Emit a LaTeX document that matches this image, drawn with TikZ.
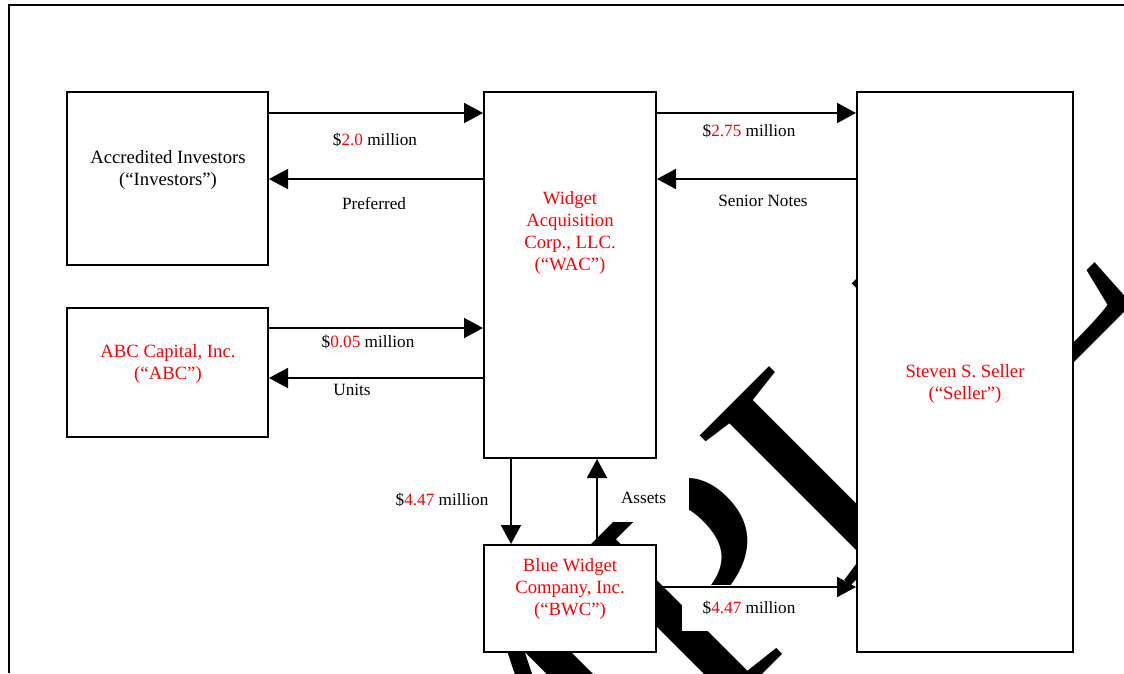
\documentclass[tikz,border=0pt]{standalone}
\usepackage{fontspec}
\setmainfont{Liberation Serif}
\usepackage{xcolor}
\usetikzlibrary{arrows.meta,positioning,calc}
\definecolor{NameRed}{RGB}{255,0,0}

\tikzset{
  entity/.style={draw, line width=2pt, fill=white, inner sep=0pt},
  boxtext/.style={align=center, inner sep=0pt, font=\fontsize{18.7}{22}\selectfont},
  flowlabel/.style={fill=white, inner xsep=8pt, inner ysep=3pt, font=\fontsize{17.2}{20}\selectfont},
  flow/.style={line width=2pt, -{Triangle[length=19pt,width=20pt]}},
}

\begin{document}
\begin{tikzpicture}[x=1pt,y=-1pt]
        \useasboundingbox (0,0) rectangle (1124,673);
        \clip (0,0) rectangle (1124,673);
        % watermark
        \node[rotate=45, xscale=1.08, anchor=base west, inner sep=0pt, font=\fontsize{325}{325}\selectfont] (wmark) at (168,1269) {SAMPLE};
        % labels on the flows
        \node[flowlabel] (l1) at (375,140) {\$\textcolor{NameRed}{2.0} million};
        \node[flowlabel] (l2) at (374,204) {Preferred};
        \node[flowlabel] (l3) at (749,131) {\$\textcolor{NameRed}{2.75} million};
        \node[flowlabel] (l4) at (763,201) {Senior Notes};
        \node[flowlabel] (l5) at (368,342) {\$\textcolor{NameRed}{0.05} million};
        \node[flowlabel] (l6) at (352,390) {Units};
        \node[flowlabel] (l7) at (442,500) {\$\textcolor{NameRed}{4.47} million};
        \node[flowlabel, minimum width=91pt, minimum height=48pt] (l8) at (643.5,498) {Assets};
        \node[flowlabel, minimum width=134pt, minimum height=46pt] (l9) at (749,608) {\$\textcolor{NameRed}{4.47} million};
        % parties
        \node[entity, minimum width=201pt, minimum height=173pt] (inv) at (167.5,178.5) {};
        \node[entity, minimum width=201pt, minimum height=129pt] (abc) at (167.5,372.5) {};
        \node[entity, minimum width=172pt, minimum height=366pt] (wac) at (570,275) {};
        \node[entity, minimum width=172pt, minimum height=107pt] (bwc) at (570,598.5) {};
        \node[entity, minimum width=216pt, minimum height=560pt] (seller) at (965,372) {};
        \node[boxtext] (invtxt) at (168,170) {Accredited Investors\\(“Investors”)};
        \node[boxtext, NameRed] (abctxt) at (168,363.5) {ABC Capital, Inc.\\(“ABC”)};
        \node[boxtext, NameRed] (wactxt) at (570,233) {Widget\\Acquisition\\Corp., LLC.\\(“WAC”)};
        \node[boxtext, NameRed] (bwctxt) at (570,589) {Blue Widget\\Company, Inc.\\(“BWC”)};
        \node[boxtext, NameRed] (sellertxt) at (965,384) {Steven S. Seller\\(“Seller”)};
        % flows
        \draw[flow] ($(inv.north east)+(0,22)$) -- ($(wac.north west)+(0,22)$);
        \draw[flow] ($(wac.north west)+(0,88)$) -- ($(inv.north east)+(0,88)$);
        \draw[flow] ($(wac.north east)+(0,22)$) -- ($(seller.north west)+(0,22)$);
        \draw[flow] ($(seller.north west)+(0,88)$) -- ($(wac.north east)+(0,88)$);
        \draw[flow] ($(abc.north east)+(0,21)$) -- ($(wac.west |- abc.north)+(0,21)$);
        \draw[flow] ($(wac.west |- abc.north)+(0,71)$) -- ($(abc.north east)+(0,71)$);
        \draw[flow] ($(wac.south west)+(28,0)$) -- ($(bwc.north west)+(28,0)$);
        \draw[flow] ($(bwc.north west)+(114,0)$) -- ($(wac.south west)+(114,0)$);
        \draw[flow] ($(bwc.north east)+(0,43)$) -- ($(seller.west |- bwc.north)+(0,43)$);
        % page frame
        \draw[line width=2pt] (8.5,673) -- (8.5,4.5) -- (1124,4.5);
      \end{tikzpicture}
\end{document}
